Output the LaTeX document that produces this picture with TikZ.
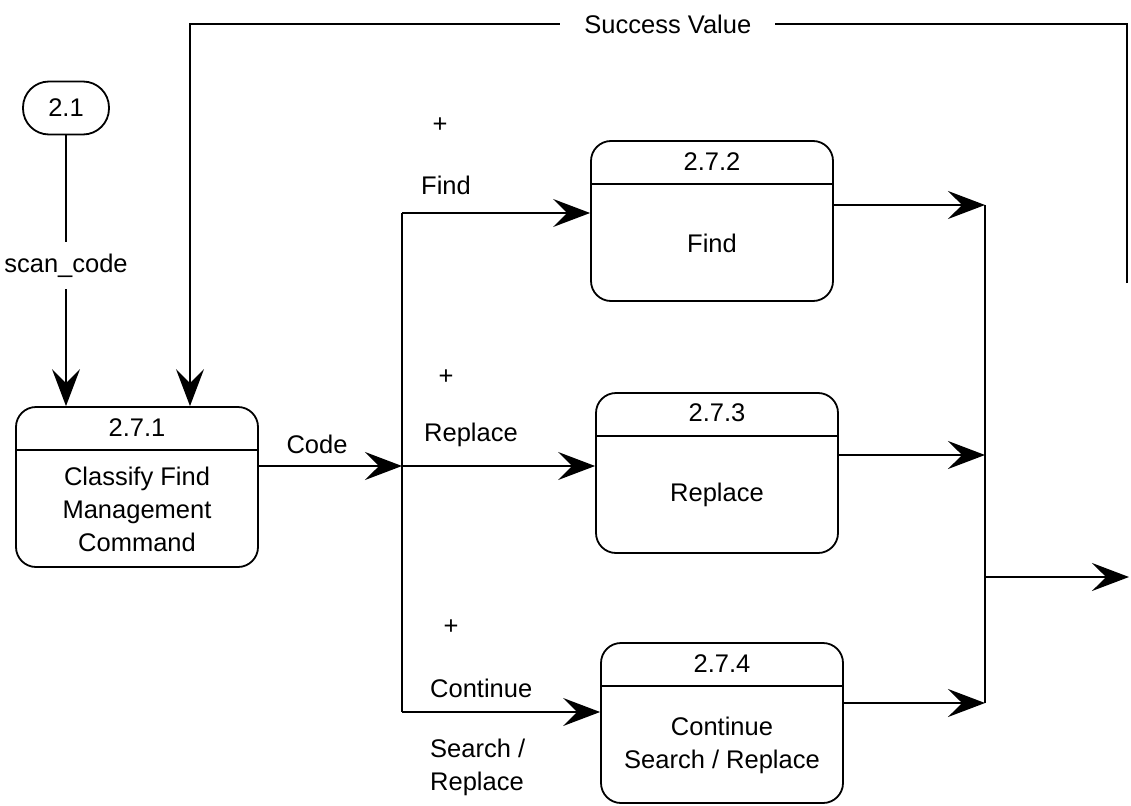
\documentclass[tikz,border=0pt]{standalone}
\usepackage{fontspec}
\setmainfont{Liberation Sans}
\usetikzlibrary{arrows.meta,calc}
\begin{document}
\begin{tikzpicture}[x=1pt,y=-1pt,
  every node/.style={font=\fontsize{25.5pt}{33pt}\selectfont, inner sep=2pt},
  ln/.style={line width=1.8pt},
  arr/.style={ln, -{Stealth[length=37pt,width=28pt,inset=14pt]}},
  proc/.style={draw, ln, rounded corners=20pt, minimum width=242pt, minimum height=160pt, inner sep=0pt},
  term/.style={draw, ln, rounded corners=26pt, minimum width=86pt, minimum height=53pt, inner sep=0pt},
  lbl/.style={anchor=west, inner sep=0pt},
  gap/.style={fill=white}
]
\useasboundingbox (0,0) rectangle (1131,805);

% processes
\node[term] (n21) at (66,108) {2.1};
\node[proc] (p1) at (137,487) {};
\node[proc] (p2) at (712,221) {};
\node[proc] (p3) at (717,473) {};
\node[proc] (p4) at (722,723) {};

% dividers and texts
\foreach \p/\num in {p1/2.7.1, p2/2.7.2, p3/2.7.3, p4/2.7.4}{
  \draw[ln] ([yshift=-44pt]\p.north west) -- ([yshift=-44pt]\p.north east);
  \node (\p h) at ([yshift=-21pt]\p.north) {\num};
}
\node[align=center] (p1b) at ($([yshift=-44pt]p1.north)!0.5!(p1.south)$) {Classify Find\\Management\\Command};
\node[align=center] (p2b) at ($([yshift=-44pt]p2.north)!0.5!(p2.south)$) {Find};
\node[align=center] (p3b) at ($([yshift=-44pt]p3.north)!0.5!(p3.south)$) {Replace};
\node[align=center] (p4b) at ($([yshift=-44pt]p4.north)!0.5!(p4.south)$) {Continue\\Search / Replace};

% input scan_code
\draw[arr] (n21) -- node[gap, pos=0.48, inner ysep=12pt] {scan\_code} (n21 |- p1.north);

% success value feedback
\coordinate (svEnd) at (1127,283);
\coordinate (svA) at (1127,24);
\coordinate (svB) at (190,24);
\draw[arr] (svEnd) -- (svA) -- node[gap, pos=0.49, inner xsep=24pt] {Success Value} (svB) -- (svB |- p1.north);

% code and left bus
\coordinate (busTop) at (402,213);
\coordinate (codeEnd) at (402,466);
\coordinate (busBot) at (402,712);
\draw[arr] (p1.east |- codeEnd) -- (codeEnd);
\node (code) at (317,444) {Code};
\draw[ln] (busTop) -- (busBot);
\draw[arr] (busTop) -- (busTop -| p2.west);
\draw[arr] (codeEnd) -- (codeEnd -| p3.west);
\draw[arr] (busBot) -- (busBot -| p4.west);

% flow labels
\node (plus1) at (440,125) {+};
\node[lbl] (lf) at (421,185) {Find};
\node (plus2) at (446,377) {+};
\node[lbl] (lr) at (424,435) {Replace};
\node (plus3) at (451,627) {+};
\node[lbl] (lc) at (430,688) {Continue};
\node[lbl, align=left] (ls) at (430,767) {Search /\\Replace};

% right bus
\coordinate (rTop) at (985,205);
\coordinate (rMid) at (985,455);
\coordinate (rBot) at (985,703);
\coordinate (rOut) at (985,577);
\coordinate (outEnd) at (1129,577);
\draw[arr] (p2.east |- rTop) -- (rTop);
\draw[arr] (p3.east |- rMid) -- (rMid);
\draw[arr] (p4.east |- rBot) -- (rBot);
\draw[ln] (rTop) -- (rBot);
\draw[arr] (rOut) -- (outEnd);
\end{tikzpicture}
\end{document}
